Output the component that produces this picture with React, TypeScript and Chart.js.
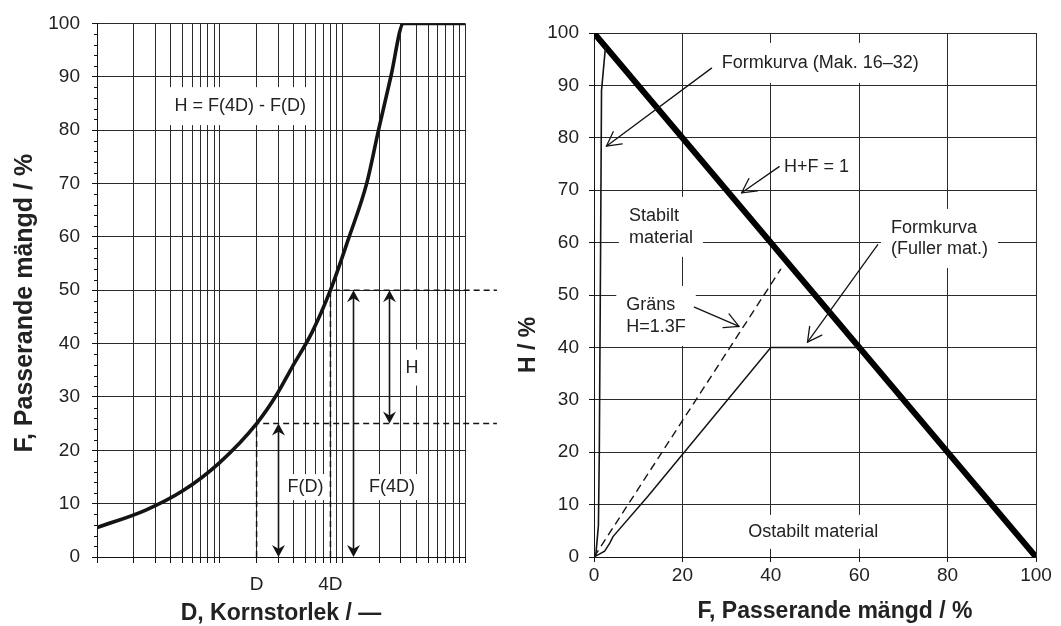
import React, { useEffect, useRef } from 'react';
import { Chart, registerables } from 'chart.js';

Chart.register(...registerables);

// ---------------- Left panel: grading curve (log D axis) ----------------
const LEFT_D_GRID = [1, 2, 3, 4, 5, 6, 7, 8, 9, 10, 20, 30, 40, 50, 60, 70, 80, 90, 100, 200, 300, 400, 500, 600, 700, 800, 900, 1000];
const LEFT_X_LABELS: Record<number, string> = { 20: 'D', 80: '4D' };
const LEFT_Y_TICKS_STEP = 10;
const LEFT_Y_MINOR_STEP = 2;

const GRADING_D = [1, 2.5, 5, 10, 20, 29.3, 39, 56.6, 80, 112.5, 158.8, 197.6, 249, 316, 1000];
const GRADING_F = [5.5, 8.8, 12.4, 17.7, 25, 30.5, 35.6, 42.1, 50, 59.7, 70.2, 80.1, 90.1, 100, 100];

const D_VALUE = 20;
const FOUR_D_VALUE = 80;
const F_AT_D = 25;
const F_AT_4D = 50;
const GUIDE_END_D = 1820;

const LEFT_ARROW_X = [30, 122, 240];
const LEFT_ARROW_FROM = [0, 0, 25];
const LEFT_ARROW_TO = [25, 50, 50];

// ---------------- Right panel: H vs F ----------------
const LIMIT_F = [0, 100];
const LIMIT_H = [100, 0];
const MAK_F = [0.4, 1.0, 1.2, 1.5, 1.7, 2.6];
const MAK_H = [0.3, 6, 20, 60, 89, 97.4];
const FULLER_F = [0, 2.4, 3.6, 4.3, 12.2, 40, 60];
const FULLER_H = [0, 1.1, 2.7, 3.9, 11.6, 40, 40];
const GRANS_F = [0, 42.3];
const GRANS_H = [0, 55];

const RIGHT_ARROW_FROM_F = [26.6, 41.9, 64.2, 22.7];
const RIGHT_ARROW_FROM_H = [93.3, 74.5, 59.6, 47.7];
const RIGHT_ARROW_TO_F = [2.8, 33.4, 48.3, 32.8];
const RIGHT_ARROW_TO_H = [78.4, 69.5, 41.0, 44.0];

// ---------------- styling ----------------
const FONT = '"Liberation Sans", Arial, Helvetica, sans-serif';
const INK = '#141414';
const TEXT = '#222222';
const GRID = '#2a2a2a';

const zip = (xs: number[], ys: number[]) => xs.map((x, i) => ({ x, y: ys[i] }));

type Note = { lines: string[]; x: number; y: number; align: 'left' | 'center'; padX: number; padY: number; gap?: number };

const LEFT_NOTES: Note[] = [
  { lines: ['H = F(4D) - F(D)'], x: 14.7, y: 84.5, align: 'center', padX: 7, padY: 10 },
  { lines: ['F(D)'], x: 50, y: 13.1, align: 'center', padX: 3, padY: 4 },
  { lines: ['F(4D)'], x: 254, y: 13.1, align: 'center', padX: 3, padY: 4 },
  { lines: ['H'], x: 370, y: 35.5, align: 'center', padX: 3, padY: 9 },
];

const RIGHT_NOTES: Note[] = [
  { lines: ['Formkurva (Mak. 16–32)'], x: 28.9, y: 94.3, align: 'left', padX: 6, padY: 11 },
  { lines: ['H+F = 1'], x: 43, y: 74.5, align: 'left', padX: 3, padY: 3 },
  { lines: ['Stabilt', 'material'], x: 7.9, y: 65.1, align: 'left', padX: 10, padY: 10, gap: 22 },
  { lines: ['Formkurva', '(Fuller mat.)'], x: 67.2, y: 62.8, align: 'left', padX: 10, padY: 10, gap: 21 },
  { lines: ['Gräns', 'H=1.3F'], x: 7.3, y: 48.1, align: 'left', padX: 10, padY: 10, gap: 22 },
  { lines: ['Ostabilt material'], x: 49.6, y: 4.8, align: 'center', padX: 6, padY: 8 },
];

const NOTE_SIZE = 18;

function drawNote(ctx: CanvasRenderingContext2D, xs: any, ys: any, n: Note) {
  ctx.save();
  ctx.font = `${NOTE_SIZE}px ${FONT}`;
  const gap = n.gap ?? 22;
  const px = xs.getPixelForValue(n.x);
  const py = ys.getPixelForValue(n.y);
  const w = Math.max(...n.lines.map((l) => ctx.measureText(l).width));
  const left = n.align === 'center' ? px - w / 2 : px;
  const top = py - NOTE_SIZE / 2 - n.padY;
  const h = (n.lines.length - 1) * gap + NOTE_SIZE + 2 * n.padY;
  ctx.fillStyle = '#ffffff';
  ctx.fillRect(left - n.padX, top, w + 2 * n.padX, h);
  ctx.fillStyle = TEXT;
  ctx.textBaseline = 'middle';
  ctx.textAlign = 'left';
  n.lines.forEach((l, i) => {
    const lw = ctx.measureText(l).width;
    const lx = n.align === 'center' ? px - lw / 2 : px;
    ctx.fillText(l, lx, py + i * gap);
  });
  ctx.restore();
}

function filledHead(ctx: CanvasRenderingContext2D, tx: number, ty: number, dx: number, dy: number) {
  const len = 12;
  const half = 6.5;
  const nx = -dy;
  const ny = dx;
  const bx = tx - dx * len;
  const by = ty - dy * len;
  const mx = tx - dx * len * 0.68;
  const my = ty - dy * len * 0.68;
  ctx.beginPath();
  ctx.moveTo(tx, ty);
  ctx.lineTo(bx + nx * half, by + ny * half);
  ctx.lineTo(mx, my);
  ctx.lineTo(bx - nx * half, by - ny * half);
  ctx.closePath();
  ctx.fill();
}

function openHead(ctx: CanvasRenderingContext2D, tx: number, ty: number, dx: number, dy: number) {
  const len = 16;
  const ang = (28 * Math.PI) / 180;
  const bx = -dx;
  const by = -dy;
  ctx.beginPath();
  for (const s of [1, -1]) {
    const c = Math.cos(s * ang);
    const sn = Math.sin(s * ang);
    const rx = bx * c - by * sn;
    const ry = bx * sn + by * c;
    ctx.moveTo(tx, ty);
    ctx.lineTo(tx + rx * len, ty + ry * len);
  }
  ctx.stroke();
}

function drawTitle(ctx: CanvasRenderingContext2D, text: string, x: number, y: number, size: number, vertical: boolean) {
  ctx.save();
  ctx.font = `bold ${size}px ${FONT}`;
  ctx.fillStyle = TEXT;
  ctx.textAlign = 'center';
  ctx.textBaseline = 'alphabetic';
  ctx.translate(x, y);
  if (vertical) ctx.rotate(-Math.PI / 2);
  ctx.fillText(text, 0, 0);
  ctx.restore();
}

const leftPlugin = {
  id: 'leftDeco',
  beforeDatasetsDraw(chart: any) {
    const { ctx, chartArea: ca, scales } = chart;
    const xs = scales.x;
    const ys = scales.y;
    ctx.save();
    ctx.strokeStyle = INK;
    ctx.lineWidth = 1;
    for (let v = 0; v <= 100; v += LEFT_Y_MINOR_STEP) {
      if (v % LEFT_Y_TICKS_STEP === 0) continue;
      const py = Math.round(ys.getPixelForValue(v)) + 0.5;
      ctx.beginPath();
      ctx.moveTo(ca.left - 3, py);
      ctx.lineTo(ca.left, py);
      ctx.stroke();
    }
    ctx.restore();
    LEFT_NOTES.forEach((n) => drawNote(ctx, xs, ys, n));
  },
  afterDatasetsDraw(chart: any) {
    const { ctx, scales } = chart;
    const xs = scales.x;
    const ys = scales.y;
    ctx.save();
    ctx.strokeStyle = INK;
    ctx.fillStyle = INK;
    ctx.lineWidth = 1.6;
    LEFT_ARROW_X.forEach((xv, i) => {
      const px = Math.round(xs.getPixelForValue(xv)) + 0.5;
      const y0 = ys.getPixelForValue(LEFT_ARROW_FROM[i]);
      const y1 = ys.getPixelForValue(LEFT_ARROW_TO[i]);
      ctx.beginPath();
      ctx.moveTo(px, y0 - 6);
      ctx.lineTo(px, y1 + 6);
      ctx.stroke();
      filledHead(ctx, px, y0, 0, 1);
      filledHead(ctx, px, y1, 0, -1);
    });
    ctx.restore();
  },
  afterDraw(chart: any) {
    const { ctx, chartArea: ca } = chart;
    drawTitle(ctx, 'F, Passerande mängd / %', ca.left - 65, (ca.top + ca.bottom) / 2 + 13, 25, true);
    drawTitle(ctx, 'D, Kornstorlek / —', (ca.left + ca.right) / 2, ca.bottom + 63, 23, false);
  },
};

const rightPlugin = {
  id: 'rightDeco',
  beforeDatasetsDraw(chart: any) {
    const { ctx, scales } = chart;
    RIGHT_NOTES.forEach((n) => drawNote(ctx, scales.x, scales.y, n));
  },
  afterDatasetsDraw(chart: any) {
    const { ctx, scales } = chart;
    const xs = scales.x;
    const ys = scales.y;
    ctx.save();
    ctx.strokeStyle = INK;
    ctx.lineWidth = 1.3;
    ctx.lineCap = 'round';
    RIGHT_ARROW_FROM_F.forEach((f, i) => {
      const x0 = xs.getPixelForValue(f);
      const y0 = ys.getPixelForValue(RIGHT_ARROW_FROM_H[i]);
      const x1 = xs.getPixelForValue(RIGHT_ARROW_TO_F[i]);
      const y1 = ys.getPixelForValue(RIGHT_ARROW_TO_H[i]);
      ctx.beginPath();
      ctx.moveTo(x0, y0);
      ctx.lineTo(x1, y1);
      ctx.stroke();
      const L = Math.hypot(x1 - x0, y1 - y0);
      openHead(ctx, x1, y1, (x1 - x0) / L, (y1 - y0) / L);
    });
    ctx.restore();
  },
  afterDraw(chart: any) {
    const { ctx, chartArea: ca } = chart;
    drawTitle(ctx, 'H / %', ca.left - 59, (ca.top + ca.bottom) / 2 + 50, 23, true);
    drawTitle(ctx, 'F, Passerande mängd / %', (ca.left + ca.right) / 2 + 20, ca.bottom + 61, 23, false);
  },
};

const tickFont = { family: FONT, size: 19 };

function leftConfig(): any {
  const guide = { showLine: true, borderColor: INK, borderWidth: 1.5, borderDash: [6, 4], pointRadius: 0, clip: false };
  return {
    type: 'scatter',
    data: {
      datasets: [
        { data: zip(GRADING_D, GRADING_F), showLine: true, borderColor: INK, borderWidth: 3.6, pointRadius: 0, cubicInterpolationMode: 'monotone', borderJoinStyle: 'round', borderCapStyle: 'round' },
        { ...guide, data: zip([D_VALUE, D_VALUE, GUIDE_END_D], [0, F_AT_D, F_AT_D]) },
        { ...guide, data: zip([FOUR_D_VALUE, FOUR_D_VALUE, GUIDE_END_D], [0, F_AT_4D, F_AT_4D]) },
      ],
    },
    options: {
      responsive: false,
      animation: false,
      devicePixelRatio: 1,
      events: [],
      layout: { padding: { top: 20, right: 65, left: 0, bottom: 0 } },
      plugins: { legend: { display: false }, tooltip: { enabled: false } },
      scales: {
        x: {
          type: 'logarithmic',
          min: 1,
          max: 1000,
          afterFit: (s: any) => { s.height = 69; },
          afterBuildTicks: (s: any) => { s.ticks = LEFT_D_GRID.map((v) => ({ value: v })); },
          ticks: { autoSkip: false, maxRotation: 0, minRotation: 0, padding: 10, color: TEXT, font: tickFont, callback: (v: any) => LEFT_X_LABELS[v as number] ?? '' },
          grid: { color: GRID, lineWidth: 1, tickLength: 6, tickColor: INK },
          border: { color: INK, width: 1 },
        },
        y: {
          min: 0,
          max: 100,
          afterFit: (s: any) => { s.width = 97; },
          ticks: { stepSize: LEFT_Y_TICKS_STEP, padding: 12, color: TEXT, font: tickFont },
          grid: { color: GRID, lineWidth: 1, tickLength: 5, tickColor: INK },
          border: { color: INK, width: 1 },
        },
      },
    },
    plugins: [leftPlugin],
  };
}

function rightConfig(): any {
  return {
    type: 'scatter',
    data: {
      datasets: [
        { data: zip(GRANS_F, GRANS_H), showLine: true, borderColor: INK, borderWidth: 1.4, borderDash: [8, 5], pointRadius: 0 },
        { data: zip(FULLER_F, FULLER_H), showLine: true, borderColor: INK, borderWidth: 1.5, pointRadius: 0 },
        { data: zip(MAK_F, MAK_H), showLine: true, borderColor: INK, borderWidth: 1.6, pointRadius: 0 },
        { data: zip(LIMIT_F, LIMIT_H), showLine: true, borderColor: '#000', borderWidth: 6, pointRadius: 0, borderCapStyle: 'round' },
      ],
    },
    options: {
      responsive: false,
      animation: false,
      devicePixelRatio: 1,
      events: [],
      layout: { padding: { top: 33, right: 25, left: 0, bottom: 0 } },
      plugins: { legend: { display: false }, tooltip: { enabled: false } },
      scales: {
        x: {
          type: 'linear',
          min: 0,
          max: 100,
          afterFit: (s: any) => { s.height = 69; },
          ticks: { stepSize: 20, padding: 2, maxRotation: 0, color: TEXT, font: tickFont },
          grid: { color: GRID, lineWidth: 1, tickLength: 5, tickColor: INK },
          border: { color: INK, width: 1 },
        },
        y: {
          min: 0,
          max: 100,
          afterFit: (s: any) => { s.width = 94; },
          ticks: { stepSize: 10, padding: 10, color: TEXT, font: tickFont },
          grid: { color: GRID, lineWidth: 1, tickLength: 5, tickColor: INK },
          border: { color: INK, width: 1 },
        },
      },
    },
    plugins: [rightPlugin],
  };
}

export default function App() {
  const leftRef = useRef<HTMLCanvasElement>(null);
  const rightRef = useRef<HTMLCanvasElement>(null);
  useEffect(() => {
    const l = new Chart(leftRef.current as HTMLCanvasElement, leftConfig());
    const r = new Chart(rightRef.current as HTMLCanvasElement, rightConfig());
    return () => {
      l.destroy();
      r.destroy();
    };
  }, []);
  return (
    <div style={{ position: 'absolute', left: 0, top: 0, width: 1061, height: 626, background: '#fff', overflow: 'hidden' }}>
      <canvas ref={leftRef} width={530} height={626} style={{ position: 'absolute', left: 0, top: 0, width: 530, height: 626 }} />
      <canvas ref={rightRef} width={561} height={626} style={{ position: 'absolute', left: 500, top: 0, width: 561, height: 626 }} />
    </div>
  );
}
